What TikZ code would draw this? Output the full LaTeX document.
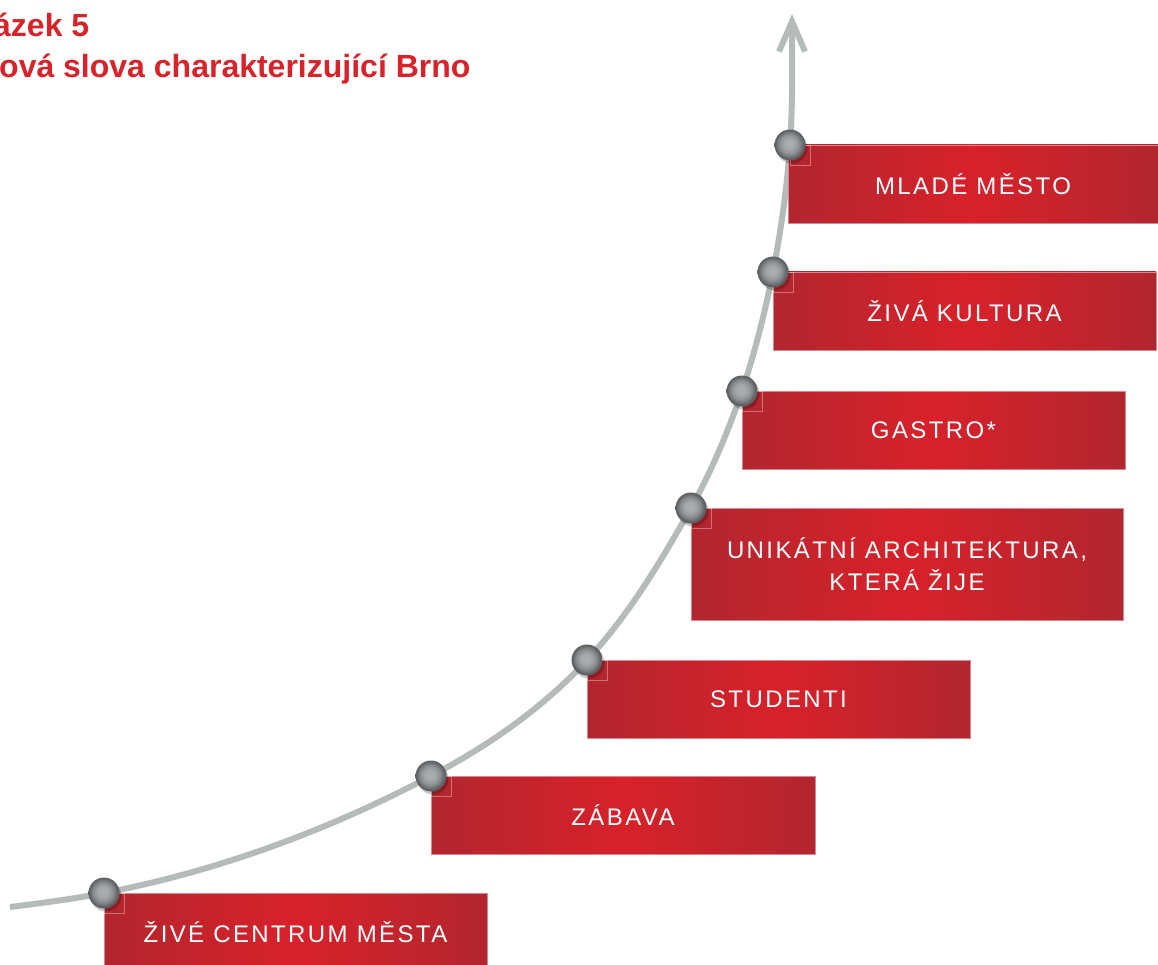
\documentclass[tikz,border=0pt]{standalone}
\usepackage{fontspec}
\setmainfont{Liberation Sans}
\newfontfamily\boxfont[LetterSpace=10]{Liberation Sans}
\usetikzlibrary{arrows.meta}
\definecolor{titlered}{HTML}{D9232B}
\definecolor{boxedge}{HTML}{B2262F}
\definecolor{boxmid}{HTML}{D8212A}
\definecolor{curvegray}{HTML}{B5BBB9}
\definecolor{ballin}{HTML}{AAAEB0}
\definecolor{ballmid}{HTML}{8A8E90}
\definecolor{ballout}{HTML}{5E6163}
\pgfdeclareradialshading{graysphere}{\pgfpoint{-2bp}{2bp}}{%
  color(0bp)=(ballin); color(8bp)=(ballin!85!ballmid); color(16bp)=(ballmid);
  color(23bp)=(ballout); color(25bp)=(ballout); color(50bp)=(ballout)}
\tikzset{
  redbox/.style={anchor=north west, inner sep=0pt, outer sep=0pt,
    left color=boxedge, right color=boxedge, middle color=boxmid,
    draw=boxedge!55!white, line width=0.7pt,
    text=white, font=\boxfont\fontsize{24}{32}\selectfont, align=center},
  ballnode/.style={circle, inner sep=0pt, outer sep=0pt, minimum size=31pt,
    shading=graysphere},
  ballshadow/.style={fill=black, opacity=0.22},
  cornersq/.style={draw=white, opacity=0.35, line width=0.6pt},
  titletext/.style={anchor=base west, inner sep=0pt, text=titlered,
    font=\bfseries\fontsize{32}{38}\selectfont},
}
\begin{document}
\begin{tikzpicture}[x=1pt, y=-1pt]
\useasboundingbox (0,0) rectangle (1158,965);
\clip (0,0) rectangle (1158,965);
\fill[white] (0,0) rectangle (1158,965);

% title
\node[titletext] (t1) at (-7,37) {ázek 5};
\node[titletext] (t2) at (-1,78) {ová slova charakterizující Brno};

% curve points
\coordinate (start) at (10,907);
\coordinate (p7) at (104,893);
\coordinate (p6) at (431,776);
\coordinate (p5) at (587,660);
\coordinate (p4) at (691,508);
\coordinate (p3) at (742,391);
\coordinate (p2) at (773,272);
\coordinate (p1) at (790,145);
\coordinate (tip) at (792,14);

\draw[curvegray, line width=6pt, -{Straight Barb[length=30pt,width=26pt]}]
  (start) .. controls +(32,-4) and +(-31,6) .. (p7)
          .. controls +(114,-22) and +(-102,54) .. (p6)
          .. controls +(57,-30) and +(-44,48) .. (p5)
          .. controls +(42,-45) and +(-30,53) .. (p4)
          .. controls +(21,-38) and +(-14,41) .. (p3)
          .. controls +(13,-39) and +(-8,40) .. (p2)
          .. controls +(8,-42) and +(-3,43) .. (p1)
          .. controls +(3,-43) and +(0,43) .. (tip);

% boxes
\node[redbox, minimum width=370pt, minimum height=78pt] (b1) at (788,145) {MLADÉ MĚSTO};
\node[redbox, minimum width=383pt, minimum height=78pt] (b2) at (p2) {ŽIVÁ KULTURA};
\node[redbox, minimum width=383pt, minimum height=78pt] (b3) at (p3) {GASTRO*};
\node[redbox, minimum width=432pt, minimum height=112pt] (b4) at (p4) {UNIKÁTNÍ ARCHITEKTURA,\\KTERÁ ŽIJE};
\node[redbox, minimum width=383pt, minimum height=78pt] (b5) at (p5) {STUDENTI};
\node[redbox, minimum width=384pt, minimum height=78pt] (b6) at (p6) {ZÁBAVA};
\node[redbox, minimum width=383pt, minimum height=78pt] (b7) at (p7) {ŽIVÉ CENTRUM MĚSTA};

% corner squares, shadows and balls
\foreach \p in {p1,p2,p3,p4,p5,p6,p7}{
  \draw[cornersq] (\p) rectangle ++(20,20);
  \fill[ballshadow] (\p) ++(2,3) circle[radius=15.5];
  \node[ballnode] (ball-\p) at (\p) {};
}
\end{tikzpicture}
\end{document}
